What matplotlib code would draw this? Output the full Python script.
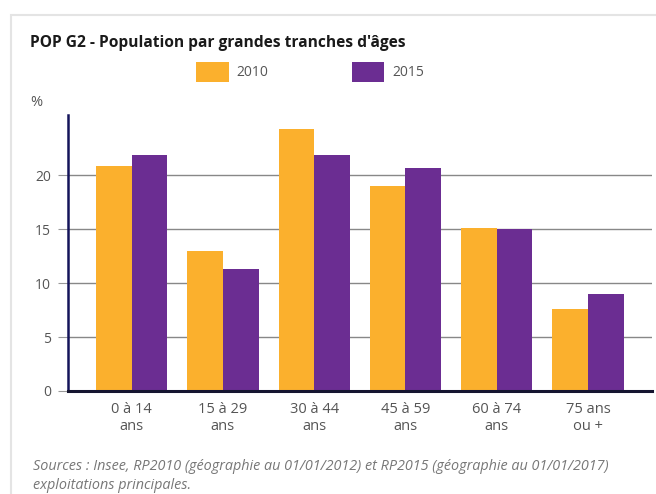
import numpy as np
import matplotlib.pyplot as plt
from matplotlib.patches import Rectangle

# values (%)
categories = ['0 à 14\nans', '15 à 29\nans', '30 à 44\nans', '45 à 59\nans', '60 à 74\nans', '75 ans\nou +']
pop_2010 = [20.9, 12.95, 24.3, 19.0, 15.1, 7.65]
pop_2015 = [21.85, 11.3, 21.85, 20.7, 15.0, 9.0]
yticks = [0, 5, 10, 15, 20]

orange = '#FBB02D'
purple = '#6B2D92'
navy = '#14145a'
grey = '#555555'

plt.rcParams['font.family'] = ['Open Sans', 'DejaVu Sans']

fig = plt.figure(figsize=(6.56, 4.94), dpi=100)
fig.patch.set_facecolor('white')

# light frame around the panel
fig.add_artist(Rectangle((11 / 656, -0.05), 1.2, 1 - 15 / 494 + 0.05, transform=fig.transFigure,
                         fill=False, edgecolor='#e4e4e4', linewidth=1.5))

ax = fig.add_axes([67.7 / 656, 1 - 391 / 494, (652 - 67.7) / 656, (391 - 115) / 494])

x = np.arange(len(categories))
w = 0.39
ax.bar(x - w / 2, pop_2010, w, color=orange, zorder=3)
ax.bar(x + w / 2, pop_2015, w, color=purple, zorder=3)

ax.set_xlim(-0.7, len(categories) - 0.3)
ax.set_ylim(0, 25.6)
ax.set_yticks(yticks)
ax.yaxis.grid(True, color='#888888', linewidth=1.0, zorder=1)
ax.set_axisbelow(True)

for s in ['top', 'right']:
    ax.spines[s].set_visible(False)
ax.spines['left'].set_color(navy)
ax.spines['left'].set_linewidth(1.8)
ax.spines['bottom'].set_color('#151530')
ax.spines['bottom'].set_linewidth(2.2)
ax.spines['bottom'].set_zorder(4)

ax.tick_params(axis='y', length=7, width=0.8, color='#999999', labelcolor=grey, labelsize=10, pad=5)
ax.set_xticks(x)
ax.set_xticklabels(categories, fontsize=10.5, color=grey)
ax.tick_params(axis='x', length=0, pad=8)

fig.text(30 / 656, 1 - 43 / 494, "POP G2 - Population par grandes tranches d'âges",
         fontsize=11.2, fontweight='bold', color='#1a1a1a', va='center', ha='left')

# legend drawn by hand like the original
fig.add_artist(Rectangle((196 / 656, 1 - 81.7 / 494), 32.7 / 656, 19.4 / 494, transform=fig.transFigure,
                         facecolor=orange, edgecolor='none'))
fig.text(236 / 656, 1 - 73 / 494, '2010', fontsize=10, color=grey, va='center')
fig.add_artist(Rectangle((352 / 656, 1 - 81.7 / 494), 32.3 / 656, 19.4 / 494, transform=fig.transFigure,
                         facecolor=purple, edgecolor='none'))
fig.text(392.7 / 656, 1 - 73 / 494, '2015', fontsize=10, color=grey, va='center')

fig.text(30 / 656, 1 - 103 / 494, '%', fontsize=10.5, color=grey, va='center')

fig.text(33 / 656, 1 - 466 / 494,
         'Sources : Insee, RP2010 (géographie au 01/01/2012) et RP2015 (géographie au 01/01/2017)',
         fontsize=10.4, style='italic', color='#777777', va='center')
fig.text(33 / 656, 1 - 485 / 494, 'exploitations principales.',
         fontsize=10.4, style='italic', color='#777777', va='center')

fig.savefig('out.png', dpi=100)
